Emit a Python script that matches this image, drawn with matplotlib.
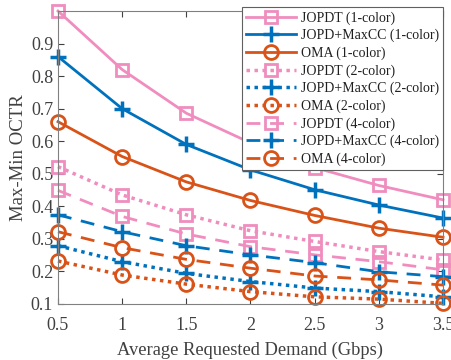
import matplotlib
matplotlib.use('Agg')
import matplotlib.pyplot as plt

plt.rcParams['font.family'] = ['Liberation Serif', 'DejaVu Serif']

demand = [0.5, 1, 1.5, 2, 2.5, 3, 3.5]

jopdt_1 = [1.0, 0.82, 0.686, 0.595, 0.519, 0.464, 0.42]
jopd_1 = [0.86, 0.70, 0.59, 0.512, 0.451, 0.404, 0.364]
oma_1 = [0.66, 0.553, 0.475, 0.418, 0.372, 0.333, 0.305]
jopdt_2 = [0.522, 0.435, 0.374, 0.325, 0.292, 0.261, 0.235]
jopd_2 = [0.279, 0.230, 0.194, 0.169, 0.149, 0.138, 0.122]
oma_2 = [0.232, 0.189, 0.161, 0.138, 0.122, 0.115, 0.102]
jopdt_4 = [0.449, 0.369, 0.315, 0.276, 0.251, 0.230, 0.205]
jopd_4 = [0.374, 0.322, 0.279, 0.251, 0.227, 0.199, 0.184]
oma_4 = [0.322, 0.273, 0.237, 0.210, 0.186, 0.174, 0.158]

pink = '#F08DBE'
blue = '#0072BD'
orange = '#D95319'
grey = '#404040'

fig = plt.figure(figsize=(4.52, 3.6), dpi=100)
ax = fig.add_axes([58/452, 1 - 304/360, 385/452, 293/360])

dot = (0, (1, 1.3))
dash = (0, (5, 3.5))
ms = 9
lw = 2

ax.plot(demand, jopdt_1, '-', color=pink, marker='s', mfc='none', ms=ms, mew=2, lw=lw, label='JOPDT (1-color)')
ax.plot(demand, jopd_1, '-', color=blue, marker='+', ms=ms + 3, mew=2.5, lw=lw, label='JOPD+MaxCC (1-color)')
ax.plot(demand, oma_1, '-', color=orange, marker='o', mfc='none', ms=ms + 1, mew=2, lw=lw, label='OMA (1-color)')
ax.plot(demand, jopdt_2, linestyle=dot, color=pink, marker='s', mfc='none', ms=ms, mew=2, lw=lw + 0.5, label='JOPDT (2-color)')
ax.plot(demand, jopd_2, linestyle=dot, color=blue, marker='+', ms=ms + 3, mew=2.5, lw=lw + 0.5, label='JOPD+MaxCC (2-color)')
ax.plot(demand, oma_2, linestyle=dot, color=orange, marker='o', mfc='none', ms=ms + 1, mew=2, lw=lw + 0.5, label='OMA (2-color)')
ax.plot(demand, jopdt_4, linestyle=dash, color=pink, marker='s', mfc='none', ms=ms, mew=2, lw=lw, label='JOPDT (4-color)')
ax.plot(demand, jopd_4, linestyle=dash, color=blue, marker='+', ms=ms + 3, mew=2.5, lw=lw, label='JOPD+MaxCC (4-color)')
ax.plot(demand, oma_4, linestyle=dash, color=orange, marker='o', mfc='none', ms=ms + 1, mew=2, lw=lw, label='OMA (4-color)')
for ln in ax.lines:
    ln.set_clip_on(False)

ax.set_xlim(0.5, 3.5)
ax.set_ylim(0.1, 1.0)
ax.set_xticks(demand)
ax.set_xticklabels(['0.5', '1', '1.5', '2', '2.5', '3', '3.5'])
ax.set_yticks([0.1, 0.2, 0.3, 0.4, 0.5, 0.6, 0.7, 0.8, 0.9])
ax.tick_params(direction='in', top=True, right=True, labelsize=13, colors=grey, length=4)
ax.tick_params(axis='x', pad=9)
for s in ax.spines.values():
    s.set_color('#808080')
ax.set_xlabel('Average Requested Demand (Gbps)', fontsize=13.3, color=grey, labelpad=6)
ax.set_ylabel('Max-Min OCTR', fontsize=13.5, color=grey, labelpad=3)

leg = ax.legend(loc='upper right', bbox_to_anchor=(1.0, 1.013), fontsize=10, frameon=True,
                fancybox=False, edgecolor='#606060', framealpha=1, handlelength=3.6,
                handletextpad=0.35, labelspacing=0.3, borderpad=0.3, borderaxespad=0)
leg.get_frame().set_linewidth(0.8)
for t in leg.get_texts():
    t.set_color('#202020')

fig.savefig('out.png', dpi=100)
